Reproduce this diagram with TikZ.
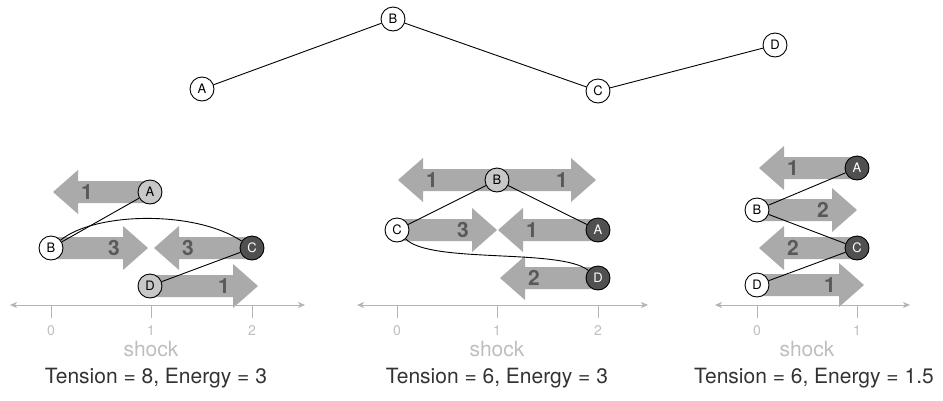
\documentclass[tikz,border=0pt]{standalone}
\usepackage{fontspec}
\setmainfont{TeX Gyre Heros}
\usetikzlibrary{arrows.meta,backgrounds}
\definecolor{fatgray}{HTML}{AAAAAA}
\definecolor{lblgray}{HTML}{595959}
\definecolor{nlight}{HTML}{C8C8C8}
\definecolor{ndark}{HTML}{505050}
\definecolor{axgray}{HTML}{B4B4B4}
\definecolor{tickgray}{HTML}{BEBEBE}
\definecolor{titlegray}{HTML}{333333}
\tikzset{
 vtx/.style={circle, draw=black, line width=0.9pt, minimum size=24pt, inner sep=0pt, font=\fontsize{13}{13}\selectfont},
 wnode/.style={vtx, fill=white},
 lnode/.style={vtx, fill=nlight},
 dnode/.style={vtx, fill=ndark, text=white},
 edge/.style={draw=black, line width=0.9pt},
 fatarrow/.style={fill=fatgray},
 wlabel/.style={text=lblgray, font=\fontsize{21}{21}\selectfont\bfseries},
 axisline/.style={draw=axgray, line width=0.8pt, {Stealth[length=7pt,width=6pt,inset=2pt]}-{Stealth[length=7pt,width=6pt,inset=2pt]}},
 tickmark/.style={draw=axgray, line width=0.8pt},
 ticklabel/.style={text=tickgray, font=\fontsize{14}{14}\selectfont},
 shocklabel/.style={text=tickgray, font=\fontsize{21}{21}\selectfont},
 titlelabel/.style={text=titlegray, font=\fontsize{21}{21}\selectfont},
}
% right-pointing fat arrow: start x, tip x, y, label
\newcommand\fatR[4]{%
 \fill[fatarrow] (#1,#3-11) -- (#2-25,#3-11) -- (#2-25,#3-22) -- (#2,#3) -- (#2-25,#3+22) -- (#2-25,#3+11) -- (#1,#3+11) -- cycle;
 \node[wlabel] at (#2-34,#3) {#4};}
% left-pointing fat arrow: start x, tip x, y, label
\newcommand\fatL[4]{%
 \fill[fatarrow] (#1,#3-11) -- (#2+25,#3-11) -- (#2+25,#3-22) -- (#2,#3) -- (#2+25,#3+22) -- (#2+25,#3+11) -- (#1,#3+11) -- cycle;
 \node[wlabel] at (#2+34,#3) {#4};}
\begin{document}
\begin{tikzpicture}[x=1pt,y=-1pt]
\useasboundingbox (0,0) rectangle (943,400);
% ---------- top graph ----------
\node[wnode] (tA) at (202,89) {A};
\node[wnode] (tB) at (393,19) {B};
\node[wnode] (tC) at (598,91) {C};
\node[wnode] (tD) at (775,45) {D};
\draw[edge] (tA) -- (tB) -- (tC) -- (tD);

% ---------- panel 1 ----------
\node[lnode] (pA) at (150,192) {A};
\node[wnode] (pB) at (51,248) {B};
\node[dnode] (pC) at (252,248) {C};
\node[lnode] (pD) at (150,286) {D};
\begin{pgfonlayer}{background}
 \fatL{150}{53}{192}{1}
 \fatR{51}{148}{248}{3}
 \fatL{252}{154}{248}{3}
 \fatR{150}{258}{286}{1}
\end{pgfonlayer}
\draw[edge] (pB) -- (pA);
\draw[edge] (pB) .. controls (95,212) and (195,210) .. (pC);
\draw[edge] (pD) -- (pC);
\draw[axisline] (10,305) -- (305,305);
\foreach \x/\l in {51/0,151/1,252/2}{
 \draw[tickmark] (\x,305) -- (\x,318);
 \node[ticklabel] at (\x,331) {\l};}
\node[shocklabel] (s1) at (151,349) {shock};
\node[titlelabel] (t1) at (156,378) {Tension = 8, Energy = 3};

% ---------- panel 2 ----------
\node[lnode] (qB) at (497,180) {B};
\node[wnode] (qC) at (397,230) {C};
\node[dnode] (qA) at (598,230) {A};
\node[dnode] (qD) at (598,278) {D};
\begin{pgfonlayer}{background}
 \fatL{497}{398}{180}{1}
 \fatR{497}{596}{180}{1}
 \fatR{397}{497}{230}{3}
 \fatL{598}{498}{230}{1}
 \fatL{598}{500}{278}{2}
\end{pgfonlayer}
\draw[edge] (qC) -- (qB) -- (qA);
\draw[edge] (qC) .. controls (430,264) and (560,248) .. (qD);
\draw[axisline] (357,305) -- (648,305);
\foreach \x/\l in {397/0,497/1,598/2}{
 \draw[tickmark] (\x,305) -- (\x,318);
 \node[ticklabel] at (\x,331) {\l};}
\node[shocklabel] (s2) at (497,349) {shock};
\node[titlelabel] (t2) at (497,378) {Tension = 6, Energy = 3};

% ---------- panel 3 ----------
\node[dnode] (rA) at (857,168) {A};
\node[wnode] (rB) at (757,210) {B};
\node[dnode] (rC) at (857,248) {C};
\node[wnode] (rD) at (757,285) {D};
\begin{pgfonlayer}{background}
 \fatL{857}{759}{168}{1}
 \fatR{757}{857}{210}{2}
 \fatL{857}{759}{248}{2}
 \fatR{757}{864}{285}{1}
\end{pgfonlayer}
\draw[edge] (rB) -- (rA);
\draw[edge] (rB) -- (rC);
\draw[edge] (rD) -- (rC);
\draw[axisline] (715,305) -- (910,305);
\foreach \x/\l in {757/0,857/1}{
 \draw[tickmark] (\x,305) -- (\x,318);
 \node[ticklabel] at (\x,331) {\l};}
\node[shocklabel] (s3) at (807,349) {shock};
\node[titlelabel] (t3) at (814,378) {Tension = 6, Energy = 1.5};
\end{tikzpicture}
\end{document}
